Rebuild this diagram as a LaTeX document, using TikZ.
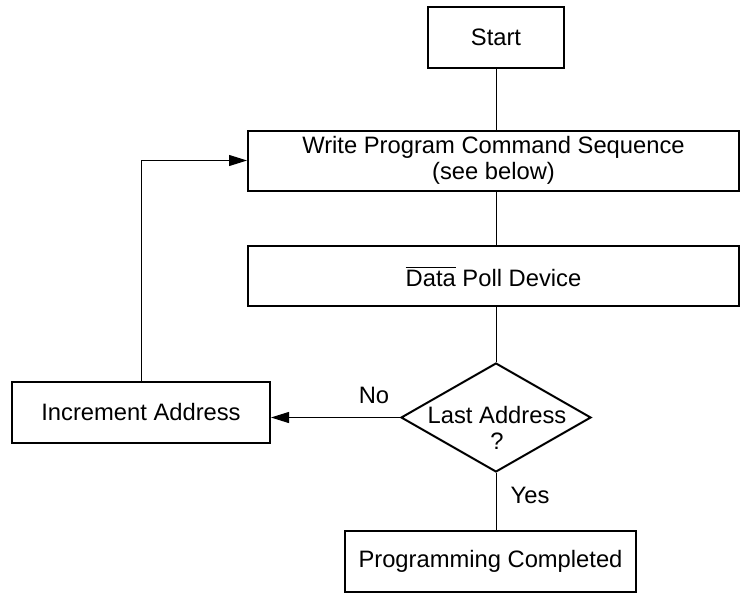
\documentclass[tikz,border=0pt]{standalone}
\usepackage{fontspec}
\setmainfont{Liberation Sans}
\usetikzlibrary{arrows.meta,shapes.geometric}

\begin{document}
\begin{tikzpicture}[x=0.5pt,y=-0.5pt]


	\tikzstyle{block}=[rectangle,draw,line width=1pt,inner sep=0pt,align=center,font=\fontsize{11.875}{13}\selectfont]
	\tikzstyle{decision}=[diamond,draw,line width=1pt,inner sep=0pt,minimum width=95pt,minimum height=54.5pt]
	\tikzstyle{tag}=[inner sep=0pt,align=center,font=\fontsize{11.875}{13}\selectfont]
	\tikzstyle{line}=[draw,line width=0.5pt]
	\tikzstyle{arrow}=[line,-{Triangle[length=9pt,width=5.5pt]}]
	\useasboundingbox (0,0) rectangle (744,594);
	\begin{scope}
	\node[block,minimum width=68pt,minimum height=30.5pt] (start) at (496,37.5) {Start};
	\node[block,minimum width=245.5pt,minimum height=30pt] (write) at (493.5,160.5)
		{Write Program Command Sequence\\(see below)};
	\node[block,minimum width=245.5pt,minimum height=30pt] (poll) at (493.5,276)
		{$\overline{\mbox{Data}}$ Poll Device};
	\node[decision] (last) at (496,417.5) {};
	\node[tag] (lasttext) at (497,427.5) {Last Address\\?};
	\node[block,minimum width=129pt,minimum height=30.5pt] (incr) at (141,412.5) {Increment Address};
	\node[block,minimum width=145.5pt,minimum height=30.5pt] (done) at (490.5,561.5) {Programming Completed};
	\node[tag] (no) at (374,395) {No};
	\node[tag] (yes) at (530,495) {Yes};
	\end{scope}

	\draw[line] (start.south) -- (start.south |- write.north);
	\draw[line] (start.south |- write.south) -- (start.south |- poll.north);
	\draw[line] (start.south |- poll.south) -- (last.north);
	\draw[line] (last.south) -- (last.south |- done.north);
	\draw[arrow] (last.west) -- (last.west -| incr.east);
	\draw[arrow] (incr.north) |- (write.west);

\end{tikzpicture}
\end{document}
